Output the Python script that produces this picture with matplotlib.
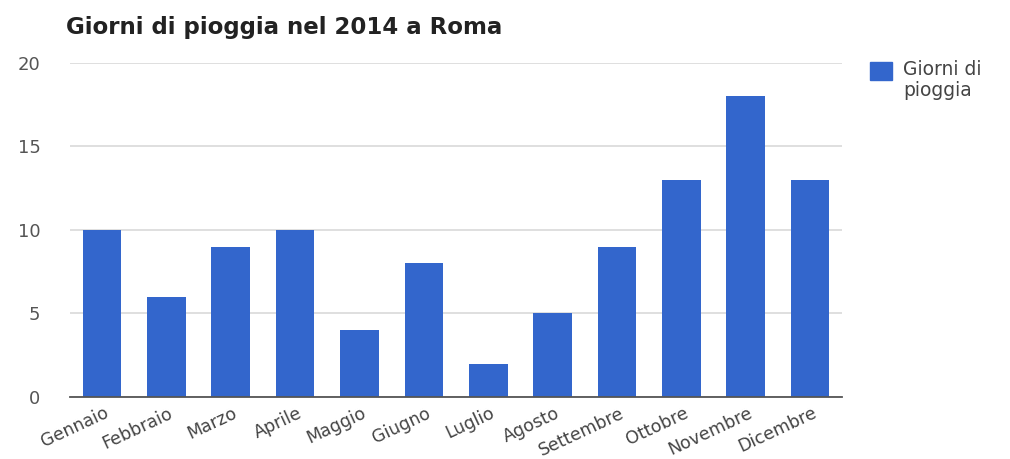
import matplotlib
matplotlib.use('Agg')
import matplotlib.pyplot as plt
import matplotlib.transforms as mtransforms
from matplotlib.patches import Rectangle
import numpy as np

mesi = ['Gennaio', 'Febbraio', 'Marzo', 'Aprile', 'Maggio', 'Giugno',
        'Luglio', 'Agosto', 'Settembre', 'Ottobre', 'Novembre', 'Dicembre']
giorni = [10, 6, 9, 10, 4, 8, 2, 5, 9, 13, 18, 13]
yticks = [0, 5, 10, 15, 20]
colore = '#3366cc'

plt.rcParams['font.family'] = ['DejaVu Sans']

fig = plt.figure(figsize=(10.1, 4.59), dpi=100)
ax = fig.add_axes([0.069, 0.135, 0.765, 0.728])

x = np.arange(len(mesi))
ax.bar(x, giorni, width=0.6, color=colore, zorder=3)

ax.set_xlim(-0.5, len(mesi) - 0.5)
ax.set_ylim(0, 20)
ax.set_yticks(yticks)
ax.yaxis.grid(True, color='#d9d9d9', linewidth=1.2, zorder=0)
for s in ['top', 'right', 'left']:
    ax.spines[s].set_visible(False)
ax.spines['bottom'].set_color('#555555')
ax.spines['bottom'].set_linewidth(1.3)
ax.spines['bottom'].set_zorder(4)
ax.tick_params(axis='y', length=0, labelsize=13, labelcolor='#555555', pad=21)
ax.tick_params(axis='x', length=0, labelsize=12.5, labelcolor='#444444', pad=5)

ax.set_xticks(x)
ax.set_xticklabels(mesi, rotation=25, ha='right', rotation_mode='anchor')
offset = mtransforms.ScaledTranslation(2 / 100, 0, fig.dpi_scale_trans)
for lab in ax.get_xticklabels():
    lab.set_transform(lab.get_transform() + offset)

fig.text(0.065, 0.927, 'Giorni di pioggia nel 2014 a Roma', fontsize=16.5,
         fontweight='bold', color='#222222', ha='left', va='baseline')

# legenda come in Google Charts: quadrato allineato alla prima riga
fig.add_artist(Rectangle((870 / 1010, 1 - 80 / 459), 22 / 1010, 18 / 459,
                         transform=fig.transFigure, color=colore))
fig.text(903 / 1010, 1 - 60 / 459, 'Giorni di\npioggia', fontsize=13.5,
         color='#444444', ha='left', va='top', linespacing=1.15)

fig.savefig('out.png', dpi=100)
